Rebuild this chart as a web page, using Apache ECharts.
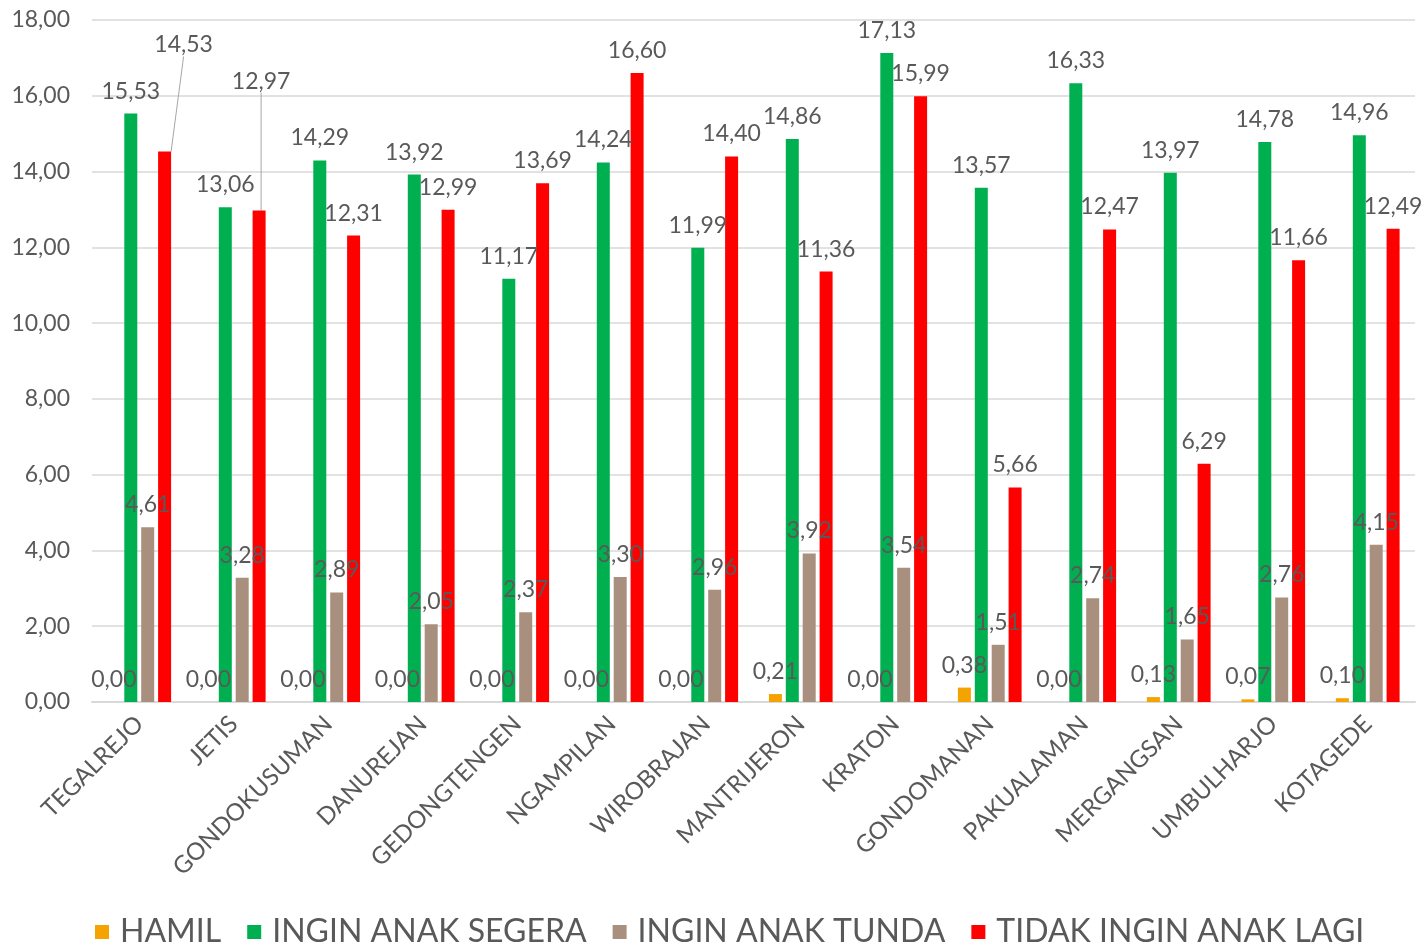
<!DOCTYPE html>
<html>
<head>
<meta charset="utf-8">
<script src="https://cdn.jsdelivr.net/npm/echarts@6/dist/echarts.min.js"></script>
<style>
html, body { margin: 0; padding: 0; background: #fff; }
#chart { width: 1427px; height: 947px; }
</style>
</head>
<body>
<div id="chart"></div>
<script>
let categories = ['TEGALREJO', 'JETIS', 'GONDOKUSUMAN', 'DANUREJAN', 'GEDONGTENGEN', 'NGAMPILAN', 'WIROBRAJAN',
    'MANTRIJERON', 'KRATON', 'GONDOMANAN', 'PAKUALAMAN', 'MERGANGSAN', 'UMBULHARJO', 'KOTAGEDE']
let hamil = [0, 0, 0, 0, 0, 0, 0, 0.21, 0, 0.38, 0, 0.13, 0.07, 0.10]
let segera = [15.53, 13.06, 14.29, 13.92, 11.17, 14.24, 11.99, 14.86, 17.13, 13.57, 16.33, 13.97, 14.78, 14.96]
let tunda = [4.61, 3.28, 2.89, 2.05, 2.37, 3.30, 2.96, 3.92, 3.54, 1.51, 2.74, 1.65, 2.76, 4.15]
let tidak = [14.53, 12.97, 12.31, 12.99, 13.69, 16.60, 14.40, 11.36, 15.99, 5.66, 12.47, 6.29, 11.66, 12.49]
let yTicks = [0, 2, 4, 6, 8, 10, 12, 14, 16, 18]

let font = 'Lato'
let textColor = '#595959'

function fmt(v) {
    return Number(v).toFixed(2).replace('.', ',')
}

function makeSeries(name, data, color) {
    return {
        name: name,
        type: 'bar',
        data: data,
        barWidth: 13,
        barGap: '30%',
        itemStyle: { color: color },
        label: {
            show: true,
            position: 'top',
            distance: 11,
            color: textColor,
            fontFamily: font,
            fontSize: 23,
            formatter: function (p) { return fmt(p.value) }
        }
    }
}

let chart = echarts.init(document.getElementById('chart'))
// first two red labels are pulled up with a leader line, like the original
let tidakData = tidak.map(function (v, i) {
    return i < 2 ? { value: v, labelLine: { show: true } } : v
})
let tidakSeries = makeSeries('TIDAK INGIN ANAK LAGI', tidakData, '#ff0000')
tidakSeries.labelLine = { show: false, lineStyle: { color: '#a6a6a6', width: 1 } }
tidakSeries.labelLayout = function (p) {
    if (p.dataIndex === 0) return { dx: 19, dy: -84 }
    if (p.dataIndex === 1) return { dx: 2, dy: -107 }
    return {}
}

let option = {
    animation: false,
    grid: { left: 92, right: 12, top: 20, bottom: 245 },
    legend: {
        bottom: -6,
        left: 90,
        itemWidth: 14,
        itemHeight: 14,
        itemGap: 26,
        icon: 'rect',
        textStyle: { color: textColor, fontFamily: font, fontSize: 32, padding: [0, 0, 0, 6] },
        data: ['HAMIL', 'INGIN ANAK SEGERA', 'INGIN ANAK TUNDA', 'TIDAK INGIN ANAK LAGI']
    },
    xAxis: {
        type: 'category',
        data: categories,
        axisTick: { show: false },
        axisLine: { lineStyle: { color: '#d9d9d9', width: 2 } },
        axisLabel: {
            rotate: 45,
            interval: 0,
            margin: 18,
            color: textColor,
            fontFamily: font,
            fontSize: 24
        }
    },
    yAxis: {
        type: 'value',
        min: yTicks[0],
        max: yTicks[yTicks.length - 1],
        interval: 2,
        axisLine: { show: false },
        axisTick: { show: false },
        splitLine: { lineStyle: { color: '#d9d9d9', width: 1.5 } },
        axisLabel: {
            margin: 22,
            color: textColor,
            fontFamily: font,
            fontSize: 23,
            formatter: function (v) { return fmt(v) }
        }
    },
    series: [
        makeSeries('HAMIL', hamil, '#f5a300'),
        makeSeries('INGIN ANAK SEGERA', segera, '#00b050'),
        makeSeries('INGIN ANAK TUNDA', tunda, '#a9907e'),
        tidakSeries
    ]
}
chart.setOption(option)
</script>
</body>
</html>
